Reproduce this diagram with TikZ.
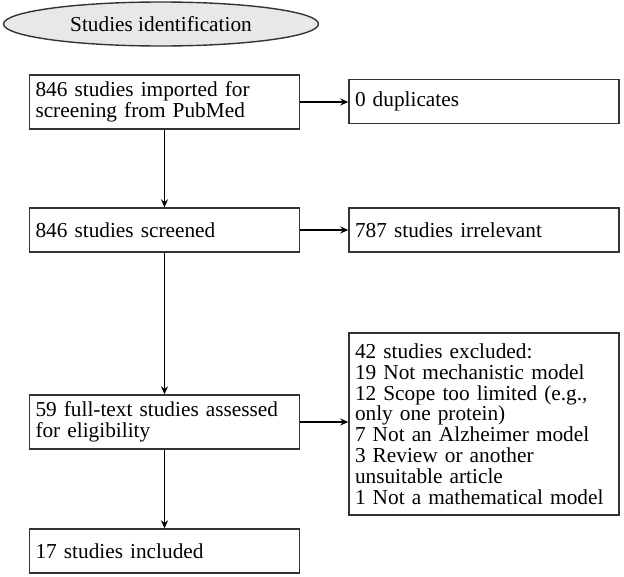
\documentclass[tikz,border=0pt]{standalone}
\usepackage{fontspec}
\setmainfont{Liberation Serif}
\usetikzlibrary{arrows.meta,shapes.geometric}
\begin{document}
\begin{tikzpicture}[x=1pt,y=-1pt,
  every node/.style={font=\fontsize{21.3}{20.8}\selectfont},
  box/.style={draw=black!80, line width=1.4pt, align=left, text width=258pt, inner sep=6pt, minimum height=#1, anchor=center},
  box/.default=44pt,
  conn/.style={line width=1.4pt, -{Stealth[length=8pt,width=7pt]}},
  oval/.style={ellipse, draw=black!80, line width=1.4pt, fill=black!9, minimum width=315pt, minimum height=44pt, inner sep=0pt}
]
\useasboundingbox (0,0) rectangle (624,576);
\node[oval] (id) at (161,24) {Studies identification};
\node[box=54pt] (imp) at (164.5,102) {846 studies imported for\\screening from PubMed};
\node[box] (dup) at (484,101.5) {0 duplicates};
\node[box] (scr) at (164.5,230) {846 studies screened};
\node[box] (irr) at (484,230) {787 studies irrelevant};
\node[box=54pt] (eli) at (164.5,422) {59 full-text studies assessed\\for eligibility};
\node[box=182pt] (exc) at (484,424) {42 studies excluded:\\19 Not mechanistic model\\12 Scope too limited (e.g.,\\only one protein)\\7 Not an Alzheimer model\\3 Review or another\\unsuitable article\\1 Not a mathematical model};
\node[box] (inc) at (164.5,551) {17 studies included};
\draw[conn] (imp.east) -- (imp.east -| dup.west);
\draw[conn] (scr.east) -- (scr.east -| irr.west);
\draw[conn] (eli.east) -- (eli.east -| exc.west);
\draw[conn] (imp.south) -- (scr.north);
\draw[conn] (scr.south) -- (eli.north);
\draw[conn] (eli.south) -- (inc.north);
\end{tikzpicture}
\end{document}
